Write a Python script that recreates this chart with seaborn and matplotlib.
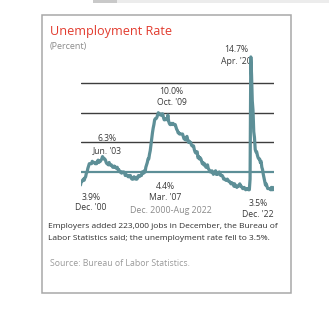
import matplotlib
matplotlib.use("Agg")
import matplotlib.pyplot as plt
import numpy as np
import pandas as pd
import seaborn as sns
from matplotlib.patches import Rectangle

# Monthly U.S. unemployment rate (percent), Dec 2000 through Dec 2022
r2000 = [3.9]
r2001 = [4.2, 4.2, 4.3, 4.4, 4.3, 4.5, 4.6, 4.9, 5.0, 5.3, 5.5, 5.7]
r2002 = [5.7, 5.7, 5.7, 5.9, 5.8, 5.8, 5.8, 5.7, 5.7, 5.7, 5.9, 6.0]
r2003 = [5.8, 5.9, 5.9, 6.0, 6.1, 6.3, 6.2, 6.1, 6.1, 6.0, 5.8, 5.7]
r2004 = [5.7, 5.6, 5.8, 5.6, 5.6, 5.6, 5.5, 5.4, 5.4, 5.5, 5.4, 5.4]
r2005 = [5.3, 5.4, 5.2, 5.2, 5.1, 5.0, 5.0, 4.9, 5.0, 5.0, 5.0, 4.9]
r2006 = [4.7, 4.8, 4.7, 4.7, 4.6, 4.6, 4.7, 4.7, 4.5, 4.4, 4.5, 4.4]
r2007 = [4.6, 4.5, 4.4, 4.5, 4.4, 4.6, 4.7, 4.6, 4.7, 4.7, 4.7, 5.0]
r2008 = [5.0, 4.9, 5.1, 5.0, 5.4, 5.6, 5.8, 6.1, 6.1, 6.5, 6.8, 7.3]
r2009 = [7.8, 8.3, 8.7, 9.0, 9.4, 9.5, 9.5, 9.6, 9.8, 10.0, 9.9, 9.9]
r2010 = [9.8, 9.8, 9.9, 9.9, 9.6, 9.4, 9.4, 9.5, 9.5, 9.4, 9.8, 9.3]
r2011 = [9.1, 9.0, 9.0, 9.1, 9.0, 9.1, 9.0, 9.0, 9.0, 8.8, 8.6, 8.5]
r2012 = [8.3, 8.3, 8.2, 8.2, 8.2, 8.2, 8.2, 8.0, 7.8, 7.8, 7.7, 7.9]
r2013 = [8.0, 7.7, 7.5, 7.6, 7.5, 7.5, 7.3, 7.2, 7.2, 7.2, 6.9, 6.7]
r2014 = [6.6, 6.7, 6.7, 6.2, 6.3, 6.1, 6.2, 6.1, 5.9, 5.7, 5.8, 5.6]
r2015 = [5.7, 5.5, 5.4, 5.4, 5.6, 5.3, 5.2, 5.1, 5.0, 5.0, 5.1, 5.0]
r2016 = [4.8, 4.9, 5.0, 5.1, 4.8, 4.9, 4.8, 4.9, 5.0, 4.9, 4.7, 4.7]
r2017 = [4.7, 4.6, 4.4, 4.4, 4.4, 4.3, 4.3, 4.4, 4.3, 4.2, 4.2, 4.1]
r2018 = [4.0, 4.1, 4.0, 4.0, 3.8, 4.0, 3.8, 3.8, 3.7, 3.8, 3.8, 3.9]
r2019 = [4.0, 3.8, 3.8, 3.7, 3.6, 3.6, 3.7, 3.6, 3.5, 3.6, 3.6, 3.6]
r2020 = [3.5, 3.5, 4.4, 14.7, 13.2, 11.0, 10.2, 8.4, 7.9, 6.9, 6.7, 6.7]
r2021 = [6.4, 6.2, 6.1, 6.1, 5.8, 5.9, 5.4, 5.2, 4.8, 4.5, 4.2, 3.9]
r2022 = [4.0, 3.8, 3.6, 3.6, 3.6, 3.6, 3.5, 3.7, 3.5, 3.7, 3.6, 3.5]

gridlines = [7.5, 10.0, 12.5]
baseline = 5.0

# Callouts: (value text, date text, x px, value y px, date y px)
callouts = [
    ("14.7%", "Apr. '20", 236.7, 49.5, 61.7),
    ("10.0%", "Oct. '09", 171.5, 92.0, 102.7),
    ("6.3%", "Jun. '03", 107.5, 138.7, 150.7),
    ("3.9%", "Dec. '00", 91.0, 197.0, 208.0),
    ("4.4%", "Mar. '07", 165.0, 186.7, 197.7),
    ("3.5%", "Dec. '22", 258.3, 203.3, 214.3),
]

title = "Unemployment Rate"
unit = "(Percent)"
period = "Dec. 2000-Aug 2022"
note_lines = [
    "Employers added 223,000 jobs in December, the Bureau of",
    "Labor Statistics said; the unemployment rate fell to 3.5%.",
]
source = "Source: Bureau of Labor Statistics."

rates = (r2000 + r2001 + r2002 + r2003 + r2004 + r2005 + r2006 + r2007 + r2008
         + r2009 + r2010 + r2011 + r2012 + r2013 + r2014 + r2015 + r2016
         + r2017 + r2018 + r2019 + r2020 + r2021 + r2022)
df = pd.DataFrame({"month": np.arange(len(rates)), "rate": rates})

sns.set_theme(style="white")
plt.rcParams["font.family"] = ["Open Sans", "DejaVu Sans"]

W, H = 329, 320
fig = plt.figure(figsize=(W / 100, H / 100), dpi=100)
fig.patch.set_facecolor("white")


def fx(x):
    return x / W


def fy(y):
    return 1 - y / H


# strip along the top edge
fig.patches.append(Rectangle((fx(93), fy(2.5)), fx(24), 2.5 / H, transform=fig.transFigure,
                             facecolor="#c9c9c9", edgecolor="none", zorder=-2))
fig.patches.append(Rectangle((fx(117), fy(2.5)), fx(212), 2.5 / H, transform=fig.transFigure,
                             facecolor="#ececec", edgecolor="none", zorder=-2))

# card frame
fig.patches.append(Rectangle((fx(41.5), fy(293)), fx(249.5), (293 - 14.5) / H,
                             transform=fig.transFigure, facecolor="white",
                             edgecolor="#a8a8a8", linewidth=1.1, zorder=-2))

x_left, x_right = 80.5, 274.3
y_top, y_bot = 53.4, 195.7
ax = fig.add_axes([fx(x_left), fy(y_bot), fx(x_right - x_left), (y_bot - y_top) / H])
ax.set_facecolor("none")
ax.set_zorder(1)

line_color = "#5d8f97"
for g in gridlines:
    ax.axhline(g, color="#3d3d3d", lw=1.0, zorder=2.5)
ax.axhline(baseline, color=line_color, lw=1.6, zorder=2.5)

sns.lineplot(data=df, x="month", y="rate", ax=ax, color=line_color, lw=2.3, zorder=3)
for ln in ax.get_lines():
    ln.set_solid_joinstyle("round")

ax.set_xlim(0, len(rates) - 1)
ax.set_ylim(3.0, 15.0)
ax.set_xlabel("")
ax.set_ylabel("")
ax.set_xticks([])
ax.set_yticks([])
for s in ax.spines.values():
    s.set_visible(False)

ann_color = "#3a3a3a"
for val, date, x, yv, yd in callouts:
    ax.text(fx(x), fy(yv), val, transform=fig.transFigure, ha="center", va="center",
            fontsize=6.2, color=ann_color, zorder=2, clip_on=False)
    ax.text(fx(x), fy(yd), date, transform=fig.transFigure, ha="center", va="center",
            fontsize=6.2, color=ann_color, zorder=2, clip_on=False)

fig.text(fx(171), fy(210.7), period, ha="center", va="center", fontsize=6.4, color="#8a8a8a")
fig.text(fx(50), fy(31), title, ha="left", va="center", fontsize=9.05, color="#e23b2e")
fig.text(fx(50), fy(47), unit, ha="left", va="center", fontsize=6.5, color="#8a8a8a")
fig.text(fx(47.7), fy(226.7), note_lines[0], ha="left", va="center", fontsize=6.0, color="#2e2e2e")
fig.text(fx(47.7), fy(238.3), note_lines[1], ha="left", va="center", fontsize=6.0, color="#2e2e2e")
fig.text(fx(50), fy(264), source, ha="left", va="center", fontsize=6.3, color="#9a9a9a")

fig.savefig("out.png", dpi=100)
